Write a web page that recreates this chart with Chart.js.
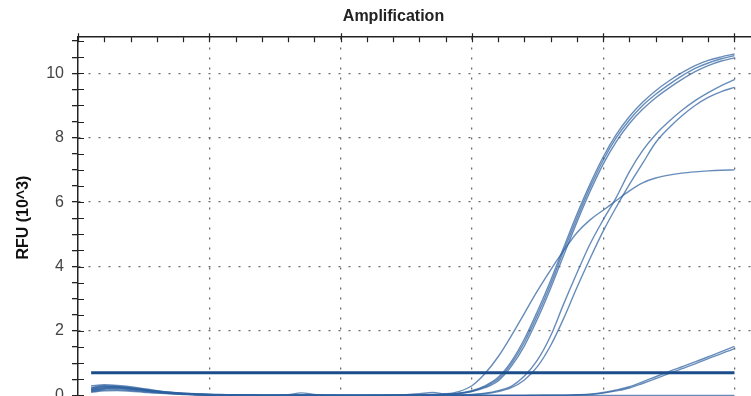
<!DOCTYPE html>
<html>
<head>
<meta charset="utf-8">
<title>Amplification</title>
<script src="https://cdn.jsdelivr.net/npm/chart.js@4.4.0/dist/chart.umd.min.js"></script>
<style>
  html, body { margin: 0; padding: 0; background: #fff; overflow: hidden; }
  #wrap { position: absolute; left: 0; top: 0; }
</style>
</head>
<body>
<div id="wrap"><canvas id="amp" width="787" height="420"></canvas></div>
<script>
// Cycle numbers (x) and RFU values in thousands (y)
const cycles = [1, 2, 3, 4, 5, 6, 7, 8, 9, 10, 11, 12, 13, 14, 15, 16, 17, 18, 19, 20,
  21, 22, 23, 24, 25, 26, 27, 28, 29, 30, 31, 32, 33, 34, 35, 36, 37, 38, 39, 40,
  41, 42, 43, 44, 45, 46, 47, 48, 49, 50];

const wellA1 = [0.22, 0.28, 0.27, 0.23, 0.18, 0.13, 0.09, 0.06, 0.04, 0.03,
  0.02, 0.02, 0.01, 0.01, 0.01, 0.01, 0.02, 0.01, 0.01, 0.00,
  0.00, 0.00, 0.01, 0.01, 0.01, 0.01, 0.02, 0.03, 0.06, 0.13,
  0.27, 0.50, 0.98, 1.65, 2.50, 3.45, 4.50, 5.50, 6.45, 7.30,
  8.00, 8.55, 9.00, 9.35, 9.65, 9.92, 10.15, 10.32, 10.45, 10.55];
const wellA2 = [0.18, 0.24, 0.25, 0.22, 0.17, 0.12, 0.08, 0.05, 0.03, 0.02,
  0.01, 0.01, 0.01, 0.00, 0.00, 0.01, 0.01, 0.01, 0.00, 0.00,
  0.00, 0.01, 0.01, 0.01, 0.01, 0.02, 0.02, 0.03, 0.06, 0.12,
  0.24, 0.45, 0.90, 1.54, 2.38, 3.33, 4.36, 5.38, 6.33, 7.18,
  7.88, 8.44, 8.88, 9.24, 9.54, 9.81, 10.05, 10.24, 10.38, 10.48];
const wellA3 = [0.25, 0.30, 0.28, 0.24, 0.19, 0.14, 0.10, 0.07, 0.05, 0.03,
  0.02, 0.02, 0.02, 0.01, 0.01, 0.01, 0.01, 0.01, 0.01, 0.01,
  0.00, 0.00, 0.00, 0.01, 0.01, 0.01, 0.01, 0.03, 0.07, 0.15,
  0.30, 0.56, 1.05, 1.75, 2.62, 3.57, 4.60, 5.62, 6.56, 7.40,
  8.10, 8.66, 9.10, 9.46, 9.76, 10.02, 10.24, 10.40, 10.51, 10.60];
const wellC = [0.30, 0.33, 0.31, 0.27, 0.21, 0.15, 0.10, 0.07, 0.05, 0.04,
  0.03, 0.02, 0.02, 0.01, 0.01, 0.01, 0.01, 0.01, 0.01, 0.01,
  0.01, 0.01, 0.01, 0.01, 0.02, 0.02, 0.03, 0.05, 0.12, 0.30,
  0.68, 1.20, 1.85, 2.55, 3.25, 3.90, 4.50, 5.05, 5.45, 5.75,
  6.05, 6.35, 6.60, 6.75, 6.84, 6.90, 6.94, 6.97, 6.99, 7.00];
const wellB1 = [0.20, 0.26, 0.26, 0.22, 0.17, 0.12, 0.08, 0.05, 0.03, 0.02,
  0.01, 0.01, 0.00, 0.00, 0.00, 0.00, 0.01, 0.01, 0.00, 0.00,
  0.00, 0.00, 0.00, 0.01, 0.02, 0.05, 0.09, 0.04, 0.02, 0.03,
  0.07, 0.15, 0.28, 0.60, 1.10, 1.85, 2.85, 3.80, 4.70, 5.45,
  6.15, 6.95, 7.60, 8.10, 8.50, 8.85, 9.15, 9.40, 9.62, 9.80];
const wellB2 = [0.16, 0.22, 0.23, 0.20, 0.16, 0.11, 0.07, 0.05, 0.03, 0.02,
  0.01, 0.00, 0.00, 0.00, 0.00, 0.00, 0.00, 0.00, 0.00, 0.00,
  0.00, 0.00, 0.00, 0.00, 0.01, 0.01, 0.01, 0.01, 0.01, 0.02,
  0.05, 0.12, 0.24, 0.48, 0.90, 1.55, 2.40, 3.35, 4.25, 5.10,
  5.85, 6.55, 7.20, 7.85, 8.30, 8.68, 9.00, 9.25, 9.43, 9.56];
const wellD1 = [0.12, 0.17, 0.18, 0.16, 0.12, 0.09, 0.06, 0.04, 0.02, 0.01,
  0.00, 0.00, 0.00, 0.00, 0.00, 0.02, 0.08, 0.03, 0.00, 0.00,
  0.00, 0.00, 0.00, 0.00, 0.00, 0.00, 0.00, 0.00, 0.00, 0.00,
  0.00, 0.00, 0.00, 0.00, 0.01, 0.01, 0.01, 0.02, 0.04, 0.09,
  0.17, 0.27, 0.42, 0.58, 0.74, 0.89, 1.04, 1.20, 1.36, 1.52];
const wellD2 = [0.10, 0.14, 0.15, 0.13, 0.10, 0.07, 0.05, 0.03, 0.02, 0.01,
  0.00, 0.00, 0.00, 0.00, 0.00, 0.00, 0.00, 0.00, 0.00, 0.00,
  0.00, 0.00, 0.00, 0.00, 0.00, 0.00, 0.00, 0.00, 0.00, 0.00,
  0.00, 0.00, 0.00, 0.00, 0.00, 0.01, 0.01, 0.02, 0.03, 0.07,
  0.14, 0.23, 0.37, 0.52, 0.68, 0.83, 0.98, 1.14, 1.30, 1.45];
const wellN1 = [0.14, 0.20, 0.21, 0.18, 0.14, 0.10, 0.07, 0.04, 0.02, 0.01,
  0.00, 0.00, 0.00, 0.00, 0.00, 0.00, 0.00, 0.00, 0.00, 0.00,
  0.00, 0.00, 0.00, 0.00, 0.00, 0.00, 0.00, 0.00, 0.00, 0.00,
  0.00, 0.00, 0.00, 0.00, 0.00, 0.00, 0.00, 0.00, 0.00, 0.00,
  0.00, 0.00, 0.00, 0.00, 0.00, 0.00, 0.00, 0.00, 0.00, 0.00];

// Threshold line
const thresholdCycles = [1, 50];
const thresholdRFU = [0.7, 0.7];

// Y tick labels that are shown
const yLabels = [0, 2, 4, 6, 8, 10];

const wells = [wellA1, wellA2, wellA3, wellC, wellB1, wellB2, wellD1, wellD2, wellN1];

const toPoints = (xs, ys) => xs.map((x, i) => ({ x: x, y: ys[i] }));

const datasets = [{
  data: toPoints(thresholdCycles, thresholdRFU),
  borderColor: '#1b4d8b',
  borderWidth: 3,
  pointRadius: 0
}];
wells.forEach(w => {
  datasets.push({
    data: toPoints(cycles, w),
    borderColor: 'rgba(44, 96, 160, 0.72)',
    borderWidth: 1.4,
    pointRadius: 0,
    cubicInterpolationMode: 'monotone'
  });
});

// Tick marks on the inside of the frame, like the instrument plot
const innerTicks = {
  id: 'innerTicks',
  afterDraw(chart) {
    const { ctx, chartArea, scales } = chart;
    ctx.save();
    ctx.strokeStyle = '#222';
    ctx.lineWidth = 1.2;
    ctx.beginPath();
    scales.y.ticks.forEach(t => {
      const y = Math.round(scales.y.getPixelForValue(t.value)) + 0.5;
      ctx.moveTo(chartArea.left, y);
      ctx.lineTo(chartArea.left + 6, y);
    });
    scales.x.ticks.forEach(t => {
      const x = Math.round(scales.x.getPixelForValue(t.value)) + 0.5;
      const major = t.value % 10 === 0;
      ctx.moveTo(x, chartArea.top - (major ? 4 : 0));
      ctx.lineTo(x, chartArea.top + 5);
    });
    ctx.stroke();
    ctx.restore();
  }
};

const dotted = '#6b6b6b';

new Chart(document.getElementById('amp'), {
  type: 'line',
  data: { datasets: datasets },
  plugins: [innerTicks],
  options: {
    responsive: false,
    devicePixelRatio: 1,
    animation: false,
    layout: { padding: { left: 0, right: 0, top: 0, bottom: 22 } },
    plugins: {
      legend: { display: false },
      tooltip: { enabled: false },
      title: {
        display: true,
        text: 'Amplification',
        color: '#222',
        font: { family: "'Liberation Sans', Arial, sans-serif", size: 16, weight: 'bold' },
        padding: { top: 7, bottom: 11 }
      }
    },
    scales: {
      x: {
        type: 'linear',
        position: 'top',
        min: 0,
        max: 54,
        ticks: { display: false, stepSize: 2, includeBounds: false },
        grid: {
          drawTicks: false,
          lineWidth: 1.3,
          color: c => (c.tick && c.tick.value > 0 && c.tick.value % 10 === 0) ? dotted : 'rgba(0,0,0,0)'
        },
        border: { color: '#222', width: 1.5, dash: [2, 8] }
      },
      y: {
        min: -0.08,
        max: 11.12,
        afterFit: s => { s.width = 78; },
        ticks: {
          stepSize: 0.5,
          includeBounds: false,
          autoSkip: false,
          padding: 8,
          color: '#444',
          font: { family: "'Liberation Sans', Arial, sans-serif", size: 16 },
          callback: v => yLabels.includes(v) ? String(v) : ''
        },
        grid: {
          tickLength: 6,
          tickColor: '#222',
          lineWidth: 1.3,
          color: c => (c.tick && c.tick.value > 0 && c.tick.value % 2 === 0) ? dotted : 'rgba(0,0,0,0)'
        },
        border: { color: '#222', width: 1.5, dash: [2, 8] },
        title: {
          display: true,
          text: 'RFU (10^3)',
          color: '#111',
          font: { family: "'Liberation Sans', Arial, sans-serif", size: 16, weight: 'bold' },
          padding: { top: 14, bottom: 4 }
        }
      }
    }
  }
});
</script>
</body>
</html>
